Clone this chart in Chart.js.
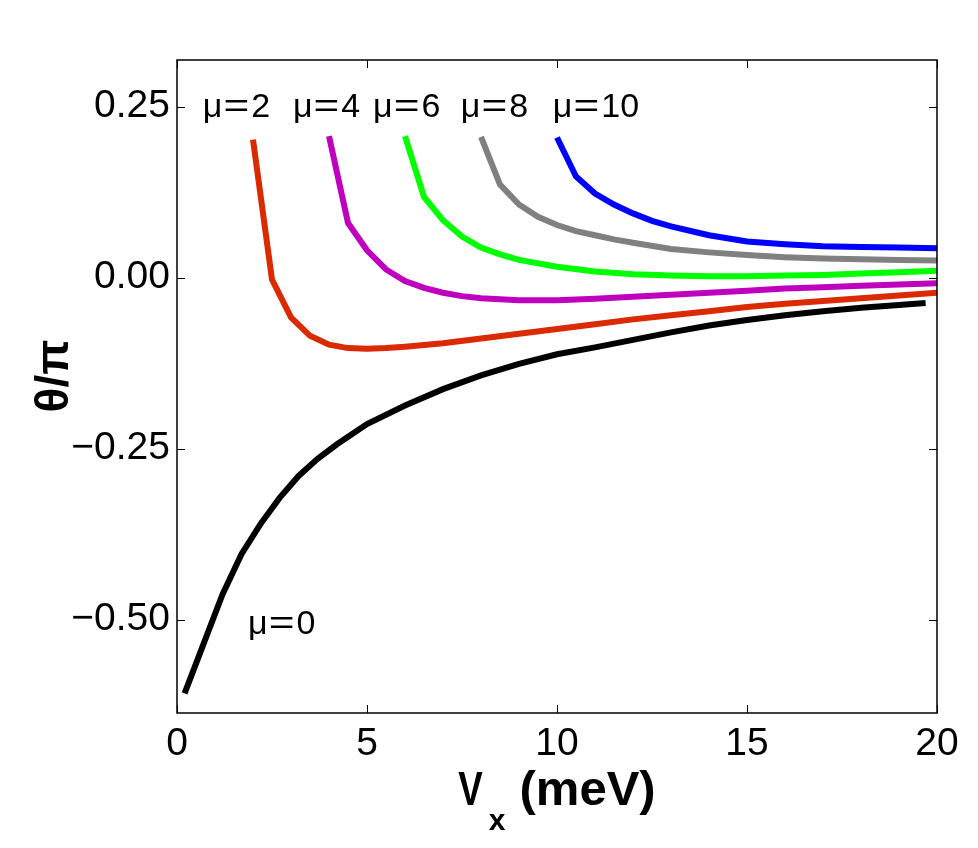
<!DOCTYPE html>
<html>
<head>
<meta charset="utf-8">
<script src="https://cdn.jsdelivr.net/npm/chart.js@4"></script>
<style>
html,body{margin:0;padding:0;background:#fff;}
#wrap{width:978px;height:848px;}
</style>
</head>
<body>
<div id="wrap"><canvas id="c" width="978" height="848"></canvas></div>
<script>
// ---- data ----
const mu0X = [0.2, 1.2, 1.7, 2.2, 2.7, 3.2, 3.7, 4.2, 5, 6, 7, 8, 9, 10, 11, 12, 13, 14, 15, 16, 17, 18, 19, 19.7];
const mu0Y = [-0.608, -0.463, -0.404, -0.360, -0.322, -0.290, -0.265, -0.244, -0.214, -0.187, -0.163, -0.143, -0.126, -0.112, -0.102, -0.091, -0.080, -0.070, -0.062, -0.055, -0.049, -0.044, -0.040, -0.037];

const mu2X = [2, 2.5, 3, 3.5, 4, 4.5, 5, 5.5, 6, 7, 8, 9, 10, 11, 12, 13, 14, 15, 16, 17, 18, 19, 20];
const mu2Y = [0.202, -0.003, -0.058, -0.085, -0.098, -0.103, -0.104, -0.103, -0.101, -0.096, -0.089, -0.082, -0.075, -0.068, -0.061, -0.055, -0.049, -0.043, -0.038, -0.034, -0.030, -0.026, -0.022];

const mu4X = [4, 4.5, 5, 5.5, 6, 6.5, 7, 7.5, 8, 9, 10, 11, 12, 13, 14, 15, 16, 17, 18, 19, 20];
const mu4Y = [0.207, 0.080, 0.040, 0.012, -0.005, -0.015, -0.022, -0.027, -0.030, -0.033, -0.033, -0.031, -0.028, -0.025, -0.022, -0.019, -0.016, -0.014, -0.012, -0.010, -0.008];

const mu6X = [6, 6.5, 7, 7.5, 8, 8.5, 9, 10, 11, 12, 13, 14, 15, 16, 17, 18, 19, 20];
const mu6Y = [0.207, 0.118, 0.084, 0.060, 0.044, 0.034, 0.026, 0.016, 0.009, 0.005, 0.003, 0.002, 0.002, 0.003, 0.004, 0.006, 0.008, 0.010];

const mu8X = [8, 8.5, 9, 9.5, 10, 10.5, 11, 11.5, 12, 13, 14, 15, 16, 17, 18, 19, 20];
const mu8Y = [0.206, 0.136, 0.107, 0.089, 0.077, 0.068, 0.062, 0.056, 0.051, 0.042, 0.037, 0.033, 0.030, 0.028, 0.027, 0.026, 0.025];

const mu10X = [10, 10.5, 11, 11.5, 12, 12.5, 13, 14, 15, 16, 17, 18, 19, 20];
const mu10Y = [0.205, 0.148, 0.123, 0.107, 0.094, 0.083, 0.075, 0.062, 0.053, 0.049, 0.046, 0.045, 0.044, 0.043];

const xTicks = [0, 5, 10, 15, 20];
const yTicks = [-0.5, -0.25, 0, 0.25];
const xRange = [0, 20];
const yRange = [-2 / Math.PI, 1 / Math.PI];

const curveMu = ['0', '2', '4', '6', '8', '10'];
const curveColors = ['#000000', '#db2a00', '#bf00bf', '#00ff00', '#808080', '#0000ff'];
// label anchors in data units (left edge, baseline)
const labelX = [1.87, 0.68, 3.05, 5.16, 7.47, 9.89];
const labelY = [-0.521, 0.235, 0.235, 0.235, 0.235, 0.235];

const seriesX = [mu0X, mu2X, mu4X, mu6X, mu8X, mu10X];
const seriesY = [mu0Y, mu2Y, mu4Y, mu6Y, mu8Y, mu10Y];

const FONT = '"Liberation Sans", Arial, Helvetica, sans-serif';

const datasets = seriesX.map((xs, i) => ({
  label: '\u03bc=' + curveMu[i],
  data: xs.map((x, j) => ({x: x, y: seriesY[i][j]})),
  borderColor: curveColors[i],
  backgroundColor: curveColors[i],
  borderWidth: 6,
  pointRadius: 0,
  tension: 0,
  fill: false,
  borderCapStyle: 'butt',
  borderJoinStyle: 'miter'
}));

const decor = {
  id: 'decor',
  afterDatasetsDraw(chart) {
    const ctx = chart.ctx;
    const a = chart.chartArea;
    const xs = chart.scales.x, ys = chart.scales.y;
    ctx.save();
    // box
    ctx.strokeStyle = '#000';
    ctx.lineWidth = 1.5;
    ctx.strokeRect(a.left, a.top, a.right - a.left, a.bottom - a.top);
    // inward ticks on all sides
    ctx.lineWidth = 1;
    const tl = 8;
    ctx.beginPath();
    xTicks.forEach(v => {
      const px = Math.round(xs.getPixelForValue(v)) + 0.5;
      ctx.moveTo(px, a.bottom); ctx.lineTo(px, a.bottom - tl);
      ctx.moveTo(px, a.top); ctx.lineTo(px, a.top + tl);
    });
    yTicks.forEach(v => {
      const py = Math.round(ys.getPixelForValue(v)) + 0.5;
      ctx.moveTo(a.left, py); ctx.lineTo(a.left + tl, py);
      ctx.moveTo(a.right, py); ctx.lineTo(a.right - tl, py);
    });
    ctx.stroke();

    // curve labels: "μ" "=" number
    ctx.fillStyle = '#000';
    ctx.textAlign = 'left';
    ctx.textBaseline = 'alphabetic';
    const lf = '34px ' + FONT;
    curveMu.forEach((t, i) => {
      let px = xs.getPixelForValue(labelX[i]);
      const py = ys.getPixelForValue(labelY[i]);
      ctx.font = lf;
      ctx.fillText('\u03bc', px, py);
      px += ctx.measureText('\u03bc').width + 1;
      const we = ctx.measureText('=').width;
      ctx.save();
      ctx.translate(px, py);
      ctx.scale(1.3, 1);
      ctx.fillText('=', 0, 0);
      ctx.restore();
      px += we * 1.3 + 2;
      ctx.fillText(t, px, py);
    });

    // x axis title: V_x (meV)
    const cx = (a.left + a.right) / 2;
    const base = 805;
    ctx.font = 'bold 49px ' + FONT;
    const wV = ctx.measureText('V').width * 0.75;
    const wP = ctx.measureText('(meV)').width;
    ctx.font = 'bold 30px ' + FONT;
    const wx = ctx.measureText('x').width;
    const gap1 = 6, gap2 = 14;
    const total = wV + gap1 + wx + gap2 + wP;
    let x0 = cx - total / 2;
    ctx.save();
    ctx.translate(x0, base);
    ctx.scale(0.75, 1);
    ctx.font = 'bold 49px ' + FONT;
    ctx.fillText('V', 0, 0);
    ctx.restore();
    x0 += wV + gap1;
    ctx.font = 'bold 30px ' + FONT;
    ctx.fillText('x', x0, 830);
    x0 += wx + gap2;
    ctx.font = 'bold 49px ' + FONT;
    ctx.fillText('(meV)', x0, base);

    // y axis title
    ctx.save();
    ctx.translate(55, 376);
    ctx.rotate(-Math.PI / 2);
    ctx.font = 'bold 46px ' + FONT;
    ctx.textAlign = 'center';
    ctx.textBaseline = 'middle';
    ctx.fillText('\u03b8/\u03c0', 0, 0);
    ctx.restore();

    ctx.restore();
  }
};

new Chart(document.getElementById('c'), {
  type: 'line',
  data: { datasets: datasets },
  options: {
    responsive: false,
    animation: false,
    devicePixelRatio: 1,
    layout: { padding: { top: 60, right: 41, left: 0, bottom: 0 } },
    plugins: { legend: { display: false }, tooltip: { enabled: false }, title: { display: false } },
    scales: {
      x: {
        type: 'linear',
        min: xRange[0], max: xRange[1],
        grid: { display: false, drawTicks: false },
        border: { display: false },
        afterBuildTicks: s => { s.ticks = xTicks.map(v => ({value: v})); },
        afterFit: s => { s.height = 135; },
        ticks: {
          color: '#000',
          font: { family: FONT, size: 39 },
          padding: 8,
          maxRotation: 0,
          autoSkip: false,
          callback: v => String(v)
        }
      },
      y: {
        type: 'linear',
        min: yRange[0], max: yRange[1],
        grid: { display: false, drawTicks: false },
        border: { display: false },
        afterBuildTicks: s => { s.ticks = yTicks.map(v => ({value: v})); },
        afterFit: s => { s.width = 177; },
        ticks: {
          color: '#000',
          font: { family: FONT, size: 39 },
          padding: 7,
          autoSkip: false,
          callback: v => (v < 0 ? '\u2212' : '') + Math.abs(v).toFixed(2)
        }
      }
    }
  },
  plugins: [decor]
});
</script>
</body>
</html>
